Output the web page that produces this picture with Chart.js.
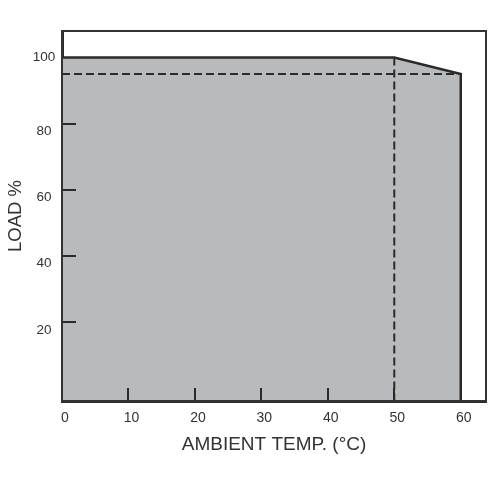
<!DOCTYPE html>
<html>
<head>
<meta charset="utf-8">
<script src="https://cdn.jsdelivr.net/npm/chart.js@4"></script>
<style>
  html, body { margin: 0; padding: 0; background: #fff; }
  #c { display: block; }
</style>
</head>
<body>
<canvas id="c" width="499" height="499"></canvas>
<script>
// ---- data ----
const tempC   = [0, 50, 60];          // ambient temperature breakpoints (°C)
const loadPct = [100, 100, 95];       // load % at those temperatures
const ratedTemp = 50;                 // temperature where derating starts
const reducedLoad = 95;               // load at max temperature
const maxTemp = 60;
const xTickValues = [0, 10, 20, 30, 40, 50, 60];
const yTickValues = [20, 40, 60, 80, 100];
const xInnerTicks = [10, 20, 30, 40, 50];
const yInnerTicks = [20, 40, 60, 80];
const xAxisMin = 0, xAxisMax = 63.8;
const yAxisMin = -4, yAxisMax = 108;
const xTitle = 'AMBIENT TEMP. (°C)';
const yTitle = 'LOAD %';

// ---- build datasets ----
const curvePoints = tempC.map((t, i) => ({ x: t, y: loadPct[i] }));
curvePoints.push({ x: maxTemp, y: yAxisMin });
const hDash = [{ x: 0, y: reducedLoad }, { x: maxTemp, y: reducedLoad }];
const vDash = [{ x: ratedTemp, y: loadPct[1] }, { x: ratedTemp, y: yAxisMin }];

const FONT = '"Liberation Sans", Arial, Helvetica, sans-serif';
const TXT = '#333';
const LINE = '#2a2a2a';

const innerTicksPlugin = {
  id: 'innerTicks',
  afterDatasetsDraw(chart) {
    const ctx = chart.ctx;
    const xs = chart.scales.x, ys = chart.scales.y;
    const ca = chart.chartArea;
    ctx.save();
    ctx.strokeStyle = LINE;
    ctx.lineWidth = 2;
    ctx.beginPath();
    yInnerTicks.forEach(v => {
      const py = Math.round(ys.getPixelForValue(v));
      ctx.moveTo(ca.left, py);
      ctx.lineTo(ca.left + 14, py);
    });
    xInnerTicks.forEach(v => {
      const px = Math.round(xs.getPixelForValue(v));
      ctx.moveTo(px, ca.bottom);
      ctx.lineTo(px, ca.bottom - 13);
    });
    ctx.stroke();
    // frame
    ctx.lineWidth = 2;
    ctx.strokeStyle = '#333';
    ctx.strokeRect(ca.left, ca.top, ca.right - ca.left, ca.bottom - ca.top);
    ctx.restore();
  }
};

new Chart(document.getElementById('c'), {
  type: 'line',
  data: {
    datasets: [
      {
        data: hDash,
        borderColor: LINE,
        borderWidth: 2,
        borderDash: [8, 4],
        pointRadius: 0,
        fill: false,
        order: 1
      },
      {
        data: vDash,
        borderColor: LINE,
        borderWidth: 2,
        borderDash: [8, 4],
        pointRadius: 0,
        fill: false,
        order: 1
      },
      {
        data: curvePoints,
        borderColor: LINE,
        borderWidth: 2.5,
        backgroundColor: '#b9babb',
        pointRadius: 0,
        tension: 0,
        fill: 'start',
        order: 2
      }
    ]
  },
  options: {
    responsive: false,
    animation: false,
    devicePixelRatio: 1,
    layout: { padding: { top: 31, right: 13, left: 0, bottom: 0 } },
    plugins: { legend: { display: false }, tooltip: { enabled: false } },
    scales: {
      x: {
        type: 'linear',
        min: xAxisMin,
        max: xAxisMax,
        afterBuildTicks: s => { s.ticks = xTickValues.map(v => ({ value: v })); },
        afterFit: s => { s.height = 98; },
        grid: { display: false, drawTicks: false },
        border: { display: true, color: LINE, width: 3 },
        ticks: {
          color: TXT,
          font: { family: FONT, size: 14 },
          padding: 8.5,
          labelOffset: 3,
          maxRotation: 0,
          autoSkip: false,
          callback: v => String(v)
        },
        title: {
          display: true,
          text: xTitle,
          color: TXT,
          font: { family: FONT, size: 19 },
          padding: { top: 0, bottom: 42.6 }
        }
      },
      y: {
        type: 'linear',
        min: yAxisMin,
        max: yAxisMax,
        afterBuildTicks: s => { s.ticks = yTickValues.map(v => ({ value: v })); },
        afterFit: s => { s.width = 62; },
        grid: { display: false, drawTicks: false },
        border: { display: true, color: LINE, width: 3 },
        ticks: {
          color: TXT,
          font: { family: FONT, size: 13.5 },
          padding: 6.7,
          crossAlign: 'center',
          autoSkip: false,
          callback: v => (v === 100 ? '100' : ['', String(v)])
        },
        title: {
          display: true,
          text: yTitle,
          color: TXT,
          font: { family: FONT, size: 18.5 },
          padding: { top: 4.7, bottom: 0 }
        }
      }
    }
  },
  plugins: [innerTicksPlugin]
});
</script>
</body>
</html>
